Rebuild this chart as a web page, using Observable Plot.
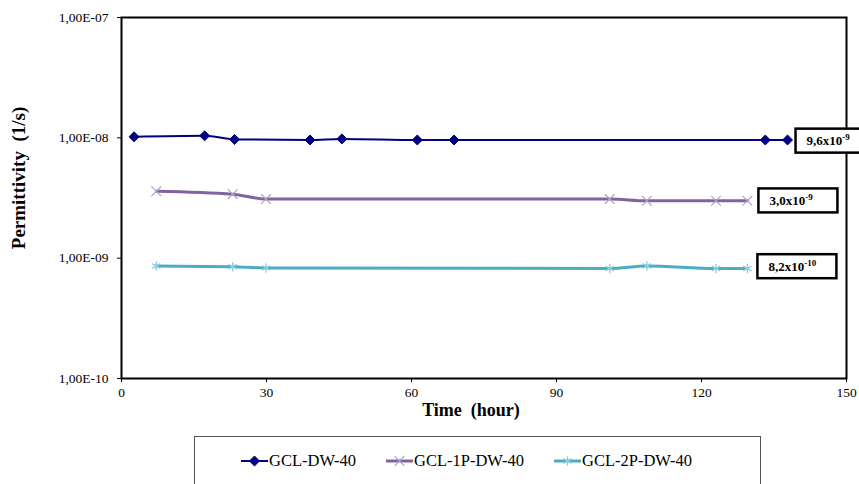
<!DOCTYPE html>
<html><head><meta charset="utf-8">
<script src="https://cdn.jsdelivr.net/npm/d3@7"></script>
<script src="https://cdn.jsdelivr.net/npm/@observablehq/plot@0.6"></script>
<style>
body{margin:0;background:#fff;font-family:'Liberation Serif',serif;}
#chart svg{display:block;}
#chart svg text, #chart svg tspan{font-family:'Liberation Serif',serif !important;}
#legend{margin-left:194px;margin-top:4px;width:567px;height:60px;border:1.5px solid #555;border-bottom:none;box-sizing:border-box;position:relative;font-family:'Liberation Serif',serif;}
.item{position:absolute;top:14px;display:flex;align-items:center;font-size:16.5px;color:#000;white-space:nowrap;font-family:'Liberation Serif',serif;}
.item svg{display:block;margin-right:1px;}
</style></head><body><div id="chart"></div><div id="legend"></div>
<script>
// ---- data ----
const seriesNames = ["GCL-DW-40", "GCL-1P-DW-40", "GCL-2P-DW-40"];
const hours1 = [2.6, 17.2, 23.4, 39.0, 45.6, 61.2, 68.8, 133.2, 137.8];
const perm1  = [1.02e-8, 1.04e-8, 9.7e-9, 9.6e-9, 9.8e-9, 9.6e-9, 9.6e-9, 9.6e-9, 9.6e-9];
const hours2 = [7.2, 23.0, 29.9, 101.0, 108.7, 123.0, 129.5];
const perm2  = [3.6e-9, 3.4e-9, 3.1e-9, 3.1e-9, 3.0e-9, 3.0e-9, 3.0e-9];
const hours3 = [7.2, 23.0, 29.9, 101.0, 108.7, 123.0, 129.5];
const perm3  = [8.6e-10, 8.5e-10, 8.3e-10, 8.2e-10, 8.6e-10, 8.2e-10, 8.2e-10];
const yTicks = [1e-10, 1e-9, 1e-8, 1e-7];
const yTickLabels = ["1,00E-10", "1,00E-09", "1,00E-08", "1,00E-07"];
const xTicks = [0, 30, 60, 90, 120, 150];
const annotBase = ["9,6x10", "3,0x10", "8,2x10"];
const annotExp = ["-9", "-9", "-10"];

// ---- styles ----
const FONT = "'Liberation Serif', serif";
const lineColors = ["#000080", "#8064A2", "#4BACC6"];
const markColors = ["#000080", "#B3A2C7", "#93CDDD"];
const lineWidths = [2, 3, 3];
const symbols = [d3.symbolDiamond2, d3.symbolTimes, d3.symbolAsterisk];
const annotDx = [19, 22, 21];
const annotDy = [1, 0, -2];

const hoursAll = [hours1, hours2, hours3];
const permAll = [perm1, perm2, perm3];
const series = hoursAll.map((hs, i) => hs.map((h, j) => ({name: seriesNames[i], hour: h, perm: permAll[i][j]})));

const marks = [];
series.forEach((d, i) => {
  marks.push(Plot.line(d, {x: "hour", y: "perm", stroke: lineColors[i], strokeWidth: lineWidths[i], curve: "monotone-x"}));
});
series.forEach((d, i) => {
  const filled = i === 0;
  marks.push(Plot.dot(d, {x: "hour", y: "perm", symbol: symbols[i], r: 4.5,
    fill: filled ? markColors[i] : "none", stroke: markColors[i], strokeWidth: filled ? 1 : 1.3}));
});
marks.push(Plot.frame({stroke: "black", strokeWidth: 2}));
marks.push(Plot.axisY(yTicks, {tickSize: 4, tickPadding: 9, fontSize: 13.5, fontFamily: FONT, tickFormat: v => yTickLabels[yTicks.indexOf(v)], label: null}));
marks.push(Plot.axisX(xTicks, {tickSize: 4, tickPadding: 5, fontSize: 13.5, fontFamily: FONT, label: null}));
marks.push(Plot.text(["Permittivity\u00a0\u00a0(1/s)"], {frameAnchor: "left", textAnchor: "middle", dx: -103, dy: -20, rotate: -90, fontSize: 19, fontWeight: "bold", fontFamily: FONT, fill: "black"}));
marks.push(Plot.text(["Time  (hour)"], {frameAnchor: "bottom", textAnchor: "middle", dx: -13, dy: 37, fontSize: 18, fontWeight: "bold", fontFamily: FONT, fill: "black"}));
series.forEach((d, i) => {
  const last = d[d.length - 1];
  marks.push(Plot.text([{hour: last.hour, perm: last.perm, t: annotBase[i] + "^" + annotExp[i]}],
    {x: "hour", y: "perm", text: "t", textAnchor: "start", dx: annotDx[i], dy: annotDy[i], fontSize: 13, fontWeight: "bold", fontFamily: FONT, fill: "black"}));
});

const plot = Plot.plot({
  width: 859, height: 432,
  marginLeft: 121, marginRight: 13, marginTop: 17, marginBottom: 54,
  style: {fontFamily: FONT, color: "black", background: "white", overflow: "visible"},
  x: {domain: [0, 150]},
  y: {type: "log", domain: [1e-10, 1e-7]},
  marks
});
document.getElementById("chart").appendChild(plot);

// superscripts and boxes for annotations
d3.select(plot).selectAll("text").filter(function(){ return this.textContent.includes("^"); }).each(function(){
  const [base, exp] = this.textContent.split("^");
  const t = d3.select(this);
  t.text(null);
  t.append("tspan").text(base);
  const b = this.getBBox();
  t.append("tspan").attr("font-size", 9).attr("dy", -5).text(exp);
  const rect = document.createElementNS("http://www.w3.org/2000/svg", "rect");
  const cy = b.y + b.height / 2;
  rect.setAttribute("x", b.x - 11);
  rect.setAttribute("y", cy - 12);
  rect.setAttribute("width", 79);
  rect.setAttribute("height", 24);
  rect.setAttribute("fill", "white");
  rect.setAttribute("stroke", "black");
  rect.setAttribute("stroke-width", 2.5);
  if (this.getAttribute("transform")) rect.setAttribute("transform", this.getAttribute("transform"));
  this.parentNode.insertBefore(rect, this);
});

// legend
const legend = d3.select("#legend");
const legendLeft = [46, 191, 359];
seriesNames.forEach((n, i) => {
  const item = legend.append("div").attr("class", "item").style("left", legendLeft[i] + "px");
  const s = item.append("svg").attr("width", 27).attr("height", 12);
  s.append("line").attr("x1", 0).attr("x2", 27).attr("y1", 6).attr("y2", 6).attr("stroke", lineColors[i]).attr("stroke-width", lineWidths[i]);
  s.append("path").attr("d", d3.symbol(symbols[i], Math.PI * 4.5 * 4.5)()).attr("transform", "translate(13.5,6)")
    .attr("fill", i === 0 ? markColors[i] : "none").attr("stroke", markColors[i]).attr("stroke-width", i === 0 ? 1 : 1.3);
  item.append("span").text(n);
});
</script></body></html>
